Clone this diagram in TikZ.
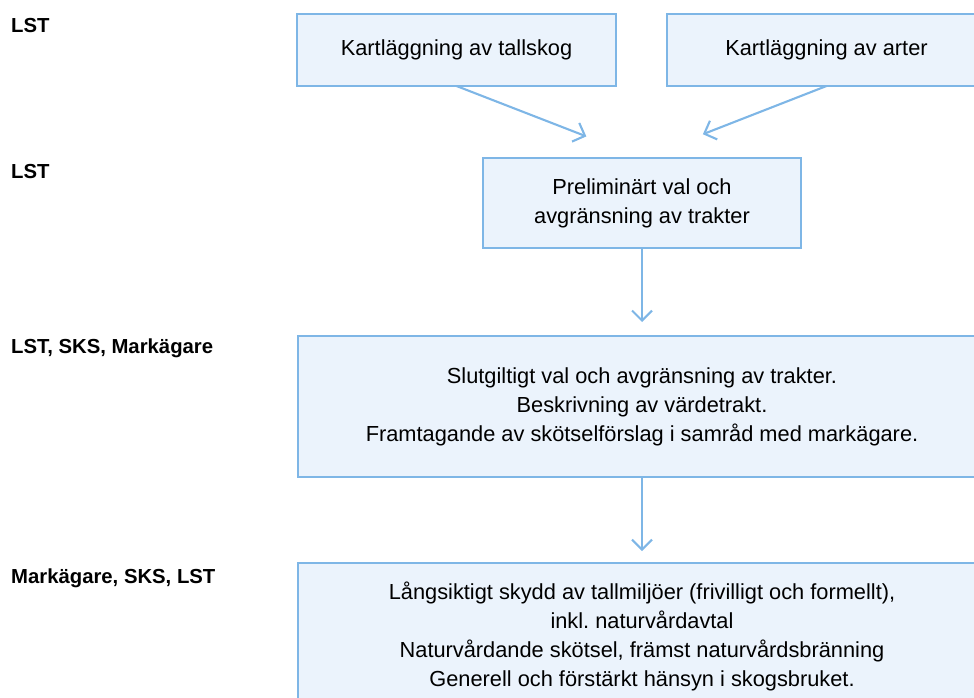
\documentclass[tikz,border=0pt]{standalone}
\usepackage{fontspec}
\setmainfont{Liberation Sans}
\usepackage{tikz}
\usetikzlibrary{arrows.meta,calc,positioning}
\frenchspacing
\definecolor{stageBlue}{HTML}{7EB6E6}
\definecolor{stageBlueLight}{HTML}{EBF3FC}
\tikzset{
  flow/.style={-{Straight Barb[length=10pt,width=20pt]}, line width=2.1pt,
    draw=stageBlue},
  stage box/.style={draw=stageBlue, fill=stageBlueLight, line width=2.7pt,
    align=center, inner sep=0pt, outer sep=0pt,
    font=\fontsize{21.8}{29}\selectfont},
  actor label/.style={anchor=base west, inner sep=0pt,
    font=\fontsize{20.3}{24}\selectfont\bfseries}
}

\begin{document}
\begin{tikzpicture}[x=1pt, y=-1pt]
  \useasboundingbox (0,0) rectangle (974,697);
  \clip (0,0) rectangle (974,697);
  \node[stage box, minimum width=319pt, minimum height=72pt] (tallskog) at (456.5,50)
    {Kartläggning av tallskog};
  \node[stage box, minimum width=319pt, minimum height=72pt, right=51pt of tallskog] (arter)
    {Kartläggning av arter};
  \node[stage box, minimum width=318pt, minimum height=90pt] (prelim) at (642,203)
    {Preliminärt val och\\avgränsning av trakter};
  \node[stage box, minimum width=688pt, minimum height=141pt, below=88pt of prelim] (slutval)
    {Slutgiltigt val och avgränsning av trakter.\\Beskrivning av värdetrakt.\\Framtagande av skötselförslag i samråd med markägare.};
  \node[stage box, minimum width=688pt, minimum height=146pt, below=86pt of slutval] (skydd)
    {Långsiktigt skydd av tallmiljöer (frivilligt och formellt),\\inkl. naturvårdavtal\\Naturvårdande skötsel, främst naturvårdsbränning\\Generell och förstärkt hänsyn i skogsbruket.};
  \node[actor label] (actorKart) at (11,32) {LST};
  \node[actor label] (actorPrelim) at (11,178) {LST};
  \node[actor label] (actorSlut) at (11,353) {LST, SKS, Markägare};
  \node[actor label] (actorSkydd) at (11,583) {Markägare, SKS, LST};
  \draw[flow] (tallskog.south) -- ($(tallskog.south)!0.7!(prelim.north)$);
  \draw[flow] (arter.south) -- ($(arter.south)!0.67!(prelim.north)$);
  \draw[flow, shorten >=14pt] (prelim) -- (slutval);
  \draw[flow, shorten >=12pt] (slutval) -- (skydd);
\end{tikzpicture}
\end{document}
